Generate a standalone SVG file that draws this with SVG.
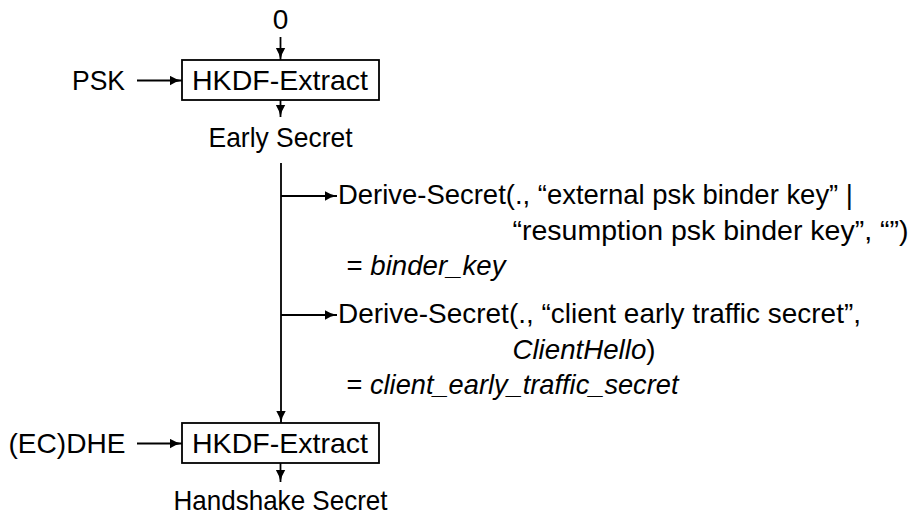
<svg xmlns="http://www.w3.org/2000/svg" width="913" height="516" viewBox="0 0 913 516">
<style>
text{font-family:"Liberation Sans","DejaVu Sans",sans-serif;font-size:28px;fill:#000}
.c{text-anchor:middle}
.i{font-style:italic}
.box{fill:#fff;stroke:#000;stroke-width:1.8}
.edge{fill:none;stroke:#000;stroke-width:1.8;marker-end:url(#ah)}
</style>
<defs>
<marker id="ah" viewBox="0 0 12 10" refX="12" refY="5" markerWidth="12" markerHeight="10" markerUnits="userSpaceOnUse" orient="auto">
<path d="M0,0.3 Q5,3.6 12,5 Q5,6.4 0,9.7 Z" fill="#000"/>
</marker>
</defs>
<rect width="913" height="516" fill="#fff"/>
<g id="connectors">
<path class="edge" d="M280.5,37 V60"/>
<path class="edge" d="M137,80.5 H182"/>
<path class="edge" d="M280.5,100 V117"/>
<path class="edge" d="M281,163 V423"/>
<path class="edge" d="M281,196 H337"/>
<path class="edge" d="M281,315 H337"/>
<path class="edge" d="M137,443.5 H182"/>
<path class="edge" d="M280.5,463 V482"/>
</g>
<g id="zero"><text class="c" x="280.5" y="29">0</text></g>
<g id="psk"><text x="72" y="90" textLength="53" lengthAdjust="spacingAndGlyphs">PSK</text></g>
<g id="extract1">
<rect class="box" x="182" y="60" width="197" height="40"/>
<text x="192" y="90" textLength="176" lengthAdjust="spacingAndGlyphs">HKDF-Extract</text>
</g>
<g id="early"><text x="208.5" y="147" textLength="144" lengthAdjust="spacingAndGlyphs">Early Secret</text></g>
<g id="binder">
<text x="338" y="204" textLength="515" lengthAdjust="spacingAndGlyphs">Derive-Secret(., “external psk binder key” |</text>
<text x="512.5" y="240" textLength="396" lengthAdjust="spacingAndGlyphs">“resumption psk binder key”, “”)</text>
<text x="346.5" y="275" textLength="159" lengthAdjust="spacingAndGlyphs">= <tspan class="i">binder_key</tspan></text>
</g>
<g id="cets">
<text x="338" y="323" textLength="523" lengthAdjust="spacingAndGlyphs">Derive-Secret(., “client early traffic secret”,</text>
<text x="512.5" y="359" textLength="143" lengthAdjust="spacingAndGlyphs"><tspan class="i">ClientHello</tspan>)</text>
<text x="346.5" y="394" textLength="332" lengthAdjust="spacingAndGlyphs">= <tspan class="i">client_early_traffic_secret</tspan></text>
</g>
<g id="ecdhe"><text x="8.5" y="453" textLength="117" lengthAdjust="spacingAndGlyphs">(EC)DHE</text></g>
<g id="extract2">
<rect class="box" x="182" y="423" width="197" height="40"/>
<text x="192" y="453" textLength="176" lengthAdjust="spacingAndGlyphs">HKDF-Extract</text>
</g>
<g id="handshake"><text x="173.5" y="510" textLength="214" lengthAdjust="spacingAndGlyphs">Handshake Secret</text></g>
</svg>
